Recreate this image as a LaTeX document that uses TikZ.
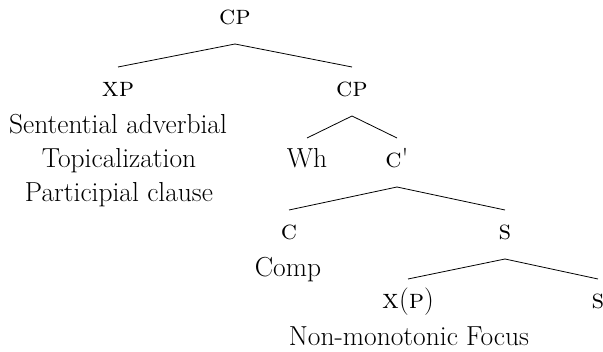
\documentclass[tikz,border=0pt]{standalone}
\begin{document}
\begin{tikzpicture}[x=1pt,y=-1pt,
  txt/.style={font=\fontsize{27.5pt}{33pt}\selectfont, inner sep=0pt, anchor=base},
  lab/.style={txt, text height=11pt, text depth=0pt, outer ysep=19pt},
  edge/.style={line width=0.8pt, black}]
\useasboundingbox (0,0) rectangle (603,352);
% tree labels
\node[lab] (cp0)  at (235,25)  {\textsc{cp}};
\node[lab] (xp)   at (118,97)  {\textsc{xp}};
\node[lab] (cp1)  at (352,97)  {\textsc{cp}};
\node[lab] (wh)   at (307,168) {Wh};
\node[lab] (cbar) at (397,168) {\textsc{c}\textquotesingle};
\node[lab] (c)    at (289,240) {\textsc{c}};
\node[lab] (s1)   at (505,240) {\textsc{s}};
\node[lab] (xpp)  at (408,309) {\textsc{x}(\textsc{p})};
\node[lab] (s2)   at (598,309) {\textsc{s}};
% descriptive texts
\node[txt] (sent)  at (118,134) {Sentential adverbial};
\node[txt] (topic) at (119,168) {Topicalization};
\node[txt] (part)  at (119,202) {Participial clause};
\node[txt] (comp)  at (288,277) {Comp};
\node[txt] (focus) at (409,346) {Non-monotonic Focus};
% branches
\draw[edge] (xp.north) -- (cp0.south) -- (cp1.north);
\draw[edge] (wh.north) -- (cp1.south) -- (cbar.north);
\draw[edge] (c.north) -- (cbar.south) -- (s1.north);
\draw[edge] (xpp.north) -- (s1.south) -- (s2.north);
\end{tikzpicture}
\end{document}
